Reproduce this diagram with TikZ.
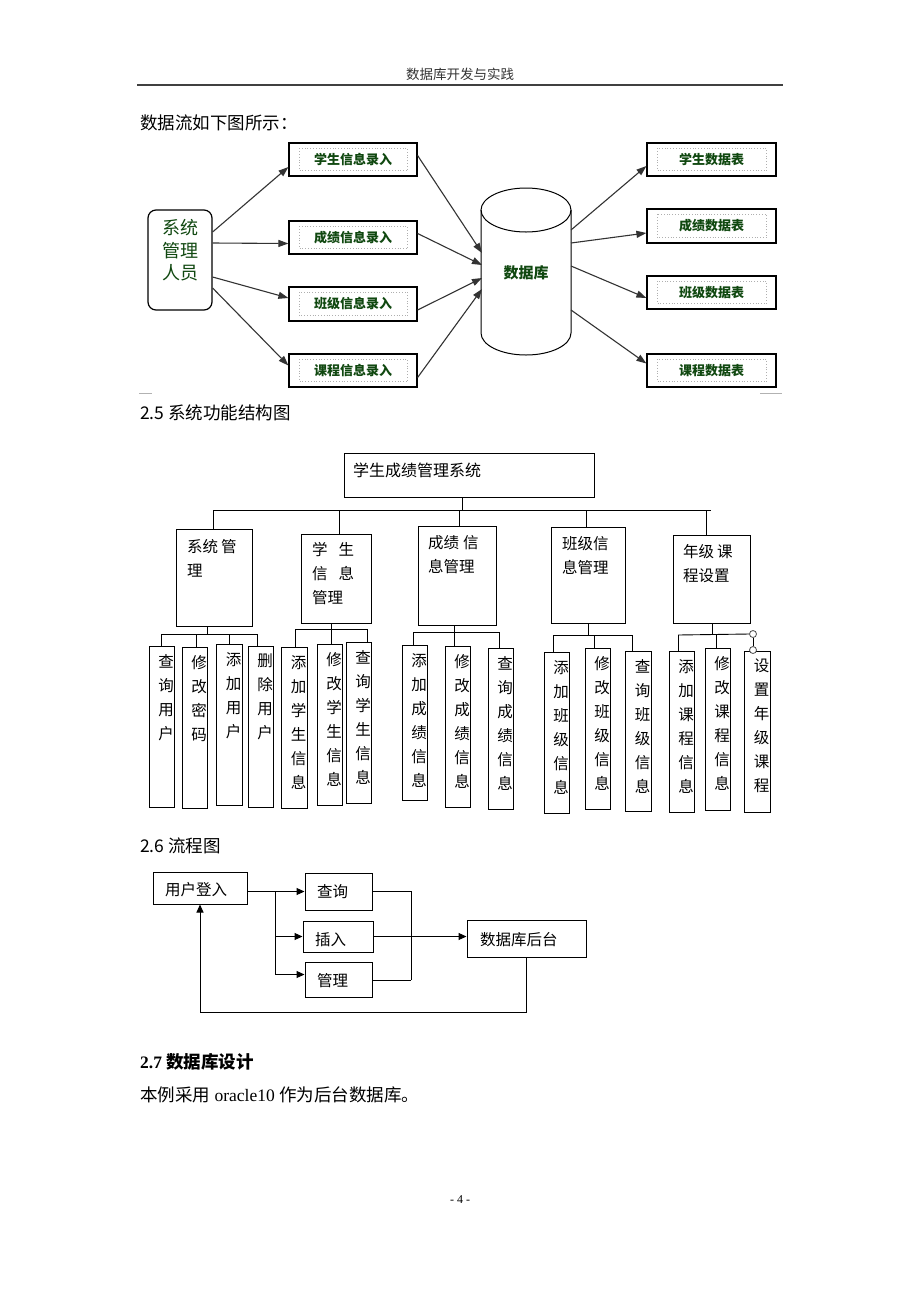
\documentclass[tikz,border=0pt]{standalone}
\usepackage{fontspec}
\setmainfont{Liberation Serif}
\newfontfamily\cjk{Noto Sans CJK SC}
\usetikzlibrary{arrows.meta,calc,fit}
\definecolor{dfgreen}{RGB}{16,72,16}
\definecolor{dotgray}{RGB}{175,175,175}
\newcommand\leafbox[6]{%
  \node[sbox, fit={(#2,#3) (#4,#5)}] (#1) {};
  \node[leaftxt, anchor=north] (#1t) at ({(#2+#4)/2+4.5},{#3+8}) {#6};
}
\newcommand\dfnode[4]{%
  \node[dfbox, fit={#2}] (#1) {};
  \draw[dfin] ($(#1.north west)+(11,6)$) rectangle ($(#1.south east)+(-10,-6)$);
  \node[dftxt] (#1t) at ($(#1.center)+(#3,0)$) {#4};
}
\begin{document}
\begin{tikzpicture}[x=1pt,y=-1pt,
 dfbox/.style={draw, line width=1.2pt, inner sep=0pt},
 dftxt/.style={text=dfgreen, inner sep=0pt, font=\cjk\bfseries\fontsize{13}{15}\selectfont},
 dfin/.style={draw=dotgray, dotted, line width=0.8pt},
 dfarr/.style={draw=black!80, line width=1.1pt, -{Triangle[length=10pt,width=7pt]}},
 sbox/.style={draw, line width=0.9pt, inner sep=0pt},
 sline/.style={line width=0.9pt},
 ltxt/.style={font=\cjk\fontsize{15.5}{24}\selectfont, align=left, inner sep=0pt, anchor=north west},
 leaftxt/.style={font=\cjk\fontsize{15.5}{24}\selectfont, align=center, inner sep=0pt},
 fbox/.style={draw, line width=1pt, inner sep=0pt},
 ftxt/.style={font=\cjk\fontsize{15.5}{18}\selectfont, inner sep=0pt, anchor=west},
 farr/.style={line width=1pt, -{Triangle[length=8pt,width=7pt]}},
 body/.style={font=\fontsize{17.5}{21}\selectfont, inner sep=0pt, anchor=west},
]
\path[use as bounding box, fill=white] (0,0) rectangle (920,1302);

% ---------- header ----------
\node[font=\cjk\fontsize{13.5}{16}\selectfont, text=black!80, inner sep=0pt] (hdr) at (460,74) {数据库开发与实践};
\draw[line width=1.6pt, black!75] (137,85) -- (783,85);
\node[body] (intro) at (140,123) {\cjk 数据流如下图所示：};

% ---------- data flow ----------
\node[draw, line width=1.2pt, rounded corners=8pt, inner sep=0pt, fit={(148,210) (212,310)}] (admin) {};
\node[font=\cjk\fontsize{18}{22.5}\selectfont, text=dfgreen, align=center, inner sep=0pt] (admint) at (180,250.5) {系统\\管理\\人员};

\dfnode{in1}{(289,143) (417,176)}{0}{学生信息录入}
\dfnode{in2}{(289,221) (417,254)}{0}{成绩信息录入}
\dfnode{in3}{(289,287) (417,321)}{0}{班级信息录入}
\dfnode{in4}{(289,354) (417,387)}{0}{课程信息录入}

\dfnode{out1}{(647,143) (776,176)}{0}{学生数据表}
\dfnode{out2}{(647,209) (776,243)}{0}{成绩数据表}
\dfnode{out3}{(647,276) (776,309)}{0}{班级数据表}
\dfnode{out4}{(647,354) (776,387)}{0}{课程数据表}

% cylinder
\draw[line width=1pt, fill=white] (481,210) -- (481,333) arc[start angle=180, end angle=360, x radius=45pt, y radius=22pt] -- (571,210);
\draw[line width=1pt] (526,210) ellipse [x radius=45pt, y radius=22pt];
\node[font=\cjk\bfseries\fontsize{15}{17}\selectfont, text=dfgreen, inner sep=0pt] (db) at (526,273) {数据库};
\coordinate (dbi1) at (482,253);
\coordinate (dbi2) at (482,265);
\coordinate (dbi3) at (482,278);
\coordinate (dbi4) at (482,289);
\coordinate (dbo1) at (571,230);
\coordinate (dbo2) at (571,243);
\coordinate (dbo3) at (571,266);
\coordinate (dbo4) at (571,310);

\draw[dfarr] ([shift={(0,-28)}]admin.east) -- ([shift={(0,7.5)}]in1.west);
\draw[dfarr] ([shift={(0,-17)}]admin.east) -- ([shift={(0,6)}]in2.west);
\draw[dfarr] ([shift={(0,17)}]admin.east) -- ([shift={(0,-6)}]in3.west);
\draw[dfarr] ([shift={(0,28)}]admin.east) -- ([shift={(0,-5)}]in4.west);

\draw[dfarr] ([shift={(0,-4)}]in1.east) -- (dbi1);
\draw[dfarr] ([shift={(0,-4)}]in2.east) -- (dbi2);
\draw[dfarr] ([shift={(0,6)}]in3.east) -- (dbi3);
\draw[dfarr] ([shift={(0,7)}]in4.east) -- (dbi4);

\draw[dfarr] (dbo1) -- ([shift={(0,6.5)}]out1.west);
\draw[dfarr] (dbo2) -- ([shift={(0,7)}]out2.west);
\draw[dfarr] (dbo3) -- ([shift={(0,5.5)}]out3.west);
\draw[dfarr] (dbo4) -- ([shift={(0,-7)}]out4.west);

% little corner marks
\draw[black!30, line width=0.8pt] (139,393) -- (152,393);
\draw[black!30, line width=0.8pt] (760,393) -- (782,393);

% ---------- 2.5 structure ----------
\node[body] (h25) at (140,413) {\cjk 2.5 系统功能结构图};

\node[sbox, fit={(344,453) (594,497)}] (top) {};
\node[font=\cjk\fontsize{16}{18}\selectfont, anchor=west, inner sep=0pt] (topt) at (353,470) {学生成绩管理系统};
\draw[sline] (462,497) -- (462,510);
\draw[sline] (213,510) -- (711,510);

\node[sbox, fit={(176,529) (252,626)}] (L1) {};
\node[sbox, fit={(301,534) (371,623)}] (L2) {};
\node[sbox, fit={(418,526) (496,625)}] (L3) {};
\node[sbox, fit={(551,527) (625,623)}] (L4) {};
\node[sbox, fit={(673,535) (750,623)}] (L5) {};
\node[ltxt] (L1t) at (187,539) {系统\hspace{3pt}管\\理};
\node[ltxt] (L2t) at (312,542) {学\hspace{11pt}生\\信\hspace{11pt}息\\管理};
\node[ltxt] (L3t) at (428,535) {成绩\hspace{4pt}信\\息管理};
\node[ltxt] (L4t) at (562,536) {班级信\\息管理};
\node[ltxt] (L5t) at (683,544) {年级\hspace{3pt}课\\程设置};
\draw[sline] (213,510) -- (213,529);
\draw[sline] (339,510) -- (339,534);
\draw[sline] (459,510) -- (459,526);
\draw[sline] (586,510) -- (586,527);
\draw[sline] (706,510) -- (706,535);

% group 1
\leafbox{a1}{149}{646}{174}{807}{查\\询\\用\\户}
\leafbox{a2}{182}{647}{207}{808}{修\\改\\密\\码}
\leafbox{a3}{216}{644}{242}{805}{添\\加\\用\\户}
\leafbox{a4}{248}{646}{273}{807}{删\\除\\用\\户}
\draw[sline] (207,626) -- (207,634);
\draw[sline] (161,634) -- (257,634);
\draw[sline] (161,634) -- (161,646);
\draw[sline] (196,634) -- (196,647);
\draw[sline] (229,634) -- (229,644);
\draw[sline] (257,634) -- (257,646);

% group 2
\leafbox{b1}{281}{647}{307}{808}{添\\加\\学\\生\\信\\息}
\leafbox{b2}{317}{644}{342}{805}{修\\改\\学\\生\\信\\息}
\leafbox{b3}{346}{642}{371}{803}{查\\询\\学\\生\\信\\息}
\draw[sline] (295,629) -- (367,629);
\draw[sline] (331,623) -- (331,644);
\draw[sline] (295,629) -- (295,647);
\draw[sline] (367,629) -- (367,642);

% group 3
\leafbox{c1}{402}{645}{427}{800}{添\\加\\成\\绩\\信\\息}
\leafbox{c2}{445}{646}{470}{807}{修\\改\\成\\绩\\信\\息}
\leafbox{c3}{488}{648}{513}{809}{查\\询\\成\\绩\\信\\息}
\draw[sline] (413,632) -- (499,632);
\draw[sline] (454,625) -- (454,646);
\draw[sline] (413,632) -- (413,645);
\draw[sline] (499,632) -- (499,648);

% group 4
\leafbox{d1}{544}{652}{569}{813}{添\\加\\班\\级\\信\\息}
\leafbox{d2}{585}{648}{610}{809}{修\\改\\班\\级\\信\\息}
\leafbox{d3}{625}{651}{651}{811}{查\\询\\班\\级\\信\\息}
\draw[sline] (588,623) -- (588,635);
\draw[sline] (553,635) -- (632,635);
\draw[sline] (553,635) -- (553,652);
\draw[sline] (594,635) -- (594,648);
\draw[sline] (632,635) -- (632,651);

% group 5
\leafbox{e1}{669}{651}{694}{812}{添\\加\\课\\程\\信\\息}
\leafbox{e2}{705}{648}{730}{810}{修\\改\\课\\程\\信\\息}
\leafbox{e3}{744}{651}{770}{812}{设\\置\\年\\级\\课\\程}
\node[circle, draw=black!70, line width=0.8pt, fill=white, inner sep=0pt, minimum size=7pt] (k1) at (753,634) {};
\node[circle, draw=black!70, line width=0.8pt, fill=white, inner sep=0pt, minimum size=7pt] (k2) at (753,650) {};
\draw[sline] (712,623) -- (712,635);
\draw[sline] (678,635) -- (k1.west);
\draw[sline] (678,635) -- (678,651);
\draw[sline] (716,635) -- (716,648);
\draw[sline] (k1.south) -- (k2.north);

% ---------- 2.6 flow chart ----------
\node[body] (h26) at (140,846) {\cjk 2.6 流程图};

\node[fbox, fit={(153,872) (247,904)}] (login) {};
\node[ftxt] (logint) at (165,890) {用户登入};
\node[fbox, fit={(305,873) (372,910)}] (q) {};
\node[ftxt] (qt) at (317,892) {查询};
\node[fbox, fit={(303,921) (373,952)}] (ins) {};
\node[ftxt] (inst) at (315,940) {插入};
\node[fbox, fit={(305,962) (372,997)}] (mg) {};
\node[ftxt] (mgt) at (317,981) {管理};
\node[fbox, fit={(467,920) (586,957)}] (dbb) {};
\node[ftxt] (dbbt) at (480,940) {数据库后台};

\coordinate (split) at (275,891.5);
\coordinate (mgin) at ([shift={(0,-5)}]mg.west);
\draw[farr] (login.east |- q.west) -- (q.west);
\draw[sline] (split) -- (split |- mgin);
\draw[farr] (split |- ins.west) -- (ins.west);
\draw[farr] (split |- mgin) -- (mgin);

\coordinate (join) at (411,891.5);
\coordinate (joinb) at (411,980);
\draw[sline] (q.east) -- (join) -- (joinb);
\draw[sline] (mg.east |- joinb) -- (joinb);
\draw[farr] (ins.east) -- (ins.east -| dbb.west);
\draw[farr] (dbb.south) -- ++(0,55) -| (login.south);

% ---------- 2.7 ----------
\node[body] (h27) at (140,1062) {\bfseries 2.7 {\cjk\bfseries 数据库设计}};
\node[body] (p27) at (140,1095) {{\cjk 本例采用} oracle10 {\cjk 作为后台数据库。}};
\node[font=\fontsize{12}{14}\selectfont, inner sep=0pt] (pg) at (460,1200) {- 4 -};
\end{tikzpicture}
\end{document}
